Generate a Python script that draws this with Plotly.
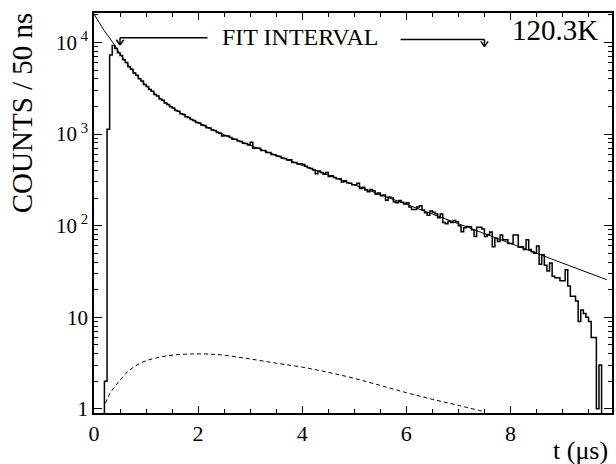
import plotly.graph_objects as go
import math

# ---------------- data ----------------
bin_width = 0.05  # microseconds (50 ns)
counts = [
    0, 0, 0, 0, 2, 1130, 7300, 9300, 8600, 7750,
    7200, 6480, 6050, 5450, 5120, 4660, 4390, 4010, 3790, 3480,
    3310, 3060, 2930, 2710, 2600, 2420, 2340, 2190, 2110, 1985,
    1930, 1815, 1770, 1670, 1635, 1545, 1515, 1440, 1410, 1340,
    1320, 1255, 1240, 1175, 1165, 1110, 1095, 1040, 1020, 955,
    960, 950, 915, 880, 880, 840, 830, 795, 790, 760,
    815, 700, 705, 700, 660, 660, 630, 630, 600, 595,
    575, 570, 545, 540, 520, 525, 490, 490, 470, 475,
    465, 445, 430, 420, 405, 370, 395, 380, 365, 380,
    345, 350, 335, 325, 325, 300, 310, 295, 290, 280,
    280, 290, 255, 262, 245, 235, 248, 240, 220, 228,
    212, 216, 190, 205, 200, 182, 178, 188, 180, 172,
    178, 160, 150, 150, 160, 165, 148, 138, 130, 145,
    140, 135, 122, 134, 108, 105, 112, 108, 114, 110,
    100, 86, 95, 98, 97, 90, 76, 96, 96, 92,
    76, 80, 85, 59, 73, 67, 79, 70, 70, 64,
    64, 79, 79, 58, 59, 55, 70, 55, 52, 50,
    60, 38, 48, 37, 32, 39, 28, 27, 27, 25,
    25, 33, 22, 17, 17, 15, 9, 12, 11, 10,
    9, 6, 6, 1, 3, 0, 0, 0, 0,
]

fit_t = [0.0, 0.1, 0.2, 0.3, 0.4, 0.5, 0.6, 0.7, 0.8, 0.9, 1.0, 1.2, 1.4, 1.6, 1.8,
         2.0, 2.5, 3.0, 3.5, 4.0, 5.0, 6.0, 7.0, 8.0, 9.0, 9.85]
fit_y = [20500, 16500, 13400, 11200, 9300, 7500, 6260, 5300, 4520, 3900, 3400, 2656, 2151, 1794, 1532,
         1331, 984, 754, 585, 456, 279, 171, 105, 64, 39, 25.7]

bkg_t = [0.22, 0.3, 0.4, 0.5, 0.6, 0.8, 1.0, 1.25, 1.5, 1.75, 2.0, 2.25, 2.5, 3.0, 3.5,
         4.0, 4.5, 5.0, 5.5, 6.0, 6.5, 7.0, 7.5]
bkg_y = [1.15, 1.45, 1.75, 2.05, 2.4, 2.95, 3.35, 3.65, 3.85, 3.95, 3.98, 3.95, 3.85, 3.5, 3.15,
         2.85, 2.5, 2.15, 1.8, 1.5, 1.27, 1.09, 0.93]

fit_interval = [0.5, 7.5]
x_range = [0.0, 9.95]
y_min, y_max = 0.9, 21000
x_major = [0, 2, 4, 6, 8]
x_minor = [0.5, 1, 1.5, 2.5, 3, 3.5, 4.5, 5, 5.5, 6.5, 7, 7.5, 8.5, 9, 9.5]
y_major = [1, 10, 100, 1000, 10000]
y_major_text = ["1", "10", "10<sup> 2</sup>", "10<sup> 3</sup>", "10<sup> 4</sup>"]
y_minor = [m * 10 ** e for e in range(0, 4) for m in range(2, 10)] + [20000]

# ---------------- build ----------------
edges = [round(i * bin_width, 4) for i in range(len(counts) + 1)]
floor_val = 0.3  # zero bins drawn below the visible range
hx = edges
hy = [c if c > 0 else floor_val for c in counts] + [counts[-1] if counts[-1] > 0 else floor_val]

serif = "Liberation Serif"

fig = go.Figure()
fig.add_trace(go.Scatter(x=hx, y=hy, mode="lines", line=dict(shape="hv", color="black", width=1.5),
                         hoverinfo="skip"))
fig.add_trace(go.Scatter(x=fit_t, y=fit_y, mode="lines", line=dict(shape="spline", color="black", width=1),
                         hoverinfo="skip"))
fig.add_trace(go.Scatter(x=bkg_t, y=bkg_y, mode="lines",
                         line=dict(shape="spline", color="black", width=1, dash="4px,3px"),
                         hoverinfo="skip"))

fig.update_layout(
    width=616, height=464,
    margin=dict(l=94, r=2, t=13, b=51),
    paper_bgcolor="white", plot_bgcolor="white",
    showlegend=False,
    font=dict(family=serif, color="black"),
)
fig.update_xaxes(
    range=x_range, showgrid=False, zeroline=False,
    showline=True, linecolor="black", linewidth=1.5, mirror="ticks",
    ticks="inside", ticklen=7, tickwidth=1, tickcolor="black",
    tickvals=x_major, ticktext=[str(v) for v in x_major],
    tickfont=dict(family=serif, size=22, color="black"),
    minor=dict(tickvals=x_minor, ticks="inside", ticklen=4, tickwidth=1, tickcolor="black"),
)
fig.update_yaxes(
    type="log", range=[math.log10(y_min), math.log10(y_max)],
    showgrid=False, zeroline=False,
    showline=True, linecolor="black", linewidth=1.5, mirror="ticks",
    ticks="inside", ticklen=8, tickwidth=1, tickcolor="black",
    tickvals=y_major, ticktext=y_major_text,
    tickfont=dict(family=serif, size=21, color="black"),
    minor=dict(tickvals=y_minor, ticks="inside", ticklen=4, tickwidth=1, tickcolor="black"),
)

# axis titles and labels
fig.add_annotation(text="COUNTS / 50 ns", xref="paper", yref="paper", x=-0.1385, y=0.75,
                   textangle=-90, showarrow=False, font=dict(family=serif, size=29, color="black"),
                   xanchor="center", yanchor="middle")
fig.add_annotation(text="t (\u03bcs)", xref="paper", yref="paper", x=0.996, y=-0.093,
                   showarrow=False, font=dict(family=serif, size=26, color="black"),
                   xanchor="right", yanchor="middle")
fig.add_annotation(text="120.3K", xref="paper", yref="paper", x=0.977, y=0.9575,
                   showarrow=False, font=dict(family=serif, size=29, color="black"),
                   xanchor="right", yanchor="middle")
fig.add_annotation(text="FIT INTERVAL", xref="paper", yref="paper", x=0.398, y=0.939,
                   showarrow=False, font=dict(family=serif, size=24, color="black"),
                   xanchor="center", yanchor="middle")

# fit-interval arrows
line_style = dict(color="black", width=1.5)
y_bar_l, y_tip_l = 0.938, 0.920
y_bar_r, y_tip_r = 0.934, 0.916
left_inner = 2.18
right_inner = 5.89
head_dx = 0.07
head_dy = 0.013
for (t0, t_inner, yb, yt) in [(fit_interval[0], left_inner, y_bar_l, y_tip_l),
                              (fit_interval[1], right_inner, y_bar_r, y_tip_r)]:
    fig.add_shape(type="line", xref="x", yref="paper", x0=t_inner, x1=t0, y0=yb, y1=yb, line=line_style)
    fig.add_shape(type="line", xref="x", yref="paper", x0=t0, x1=t0, y0=yb, y1=yt, line=line_style)
    fig.add_shape(type="line", xref="x", yref="paper", x0=t0 - head_dx, x1=t0, y0=yt + head_dy, y1=yt,
                  line=line_style)
    fig.add_shape(type="line", xref="x", yref="paper", x0=t0 + head_dx, x1=t0, y0=yt + head_dy, y1=yt,
                  line=line_style)

fig.write_html("out.html")
